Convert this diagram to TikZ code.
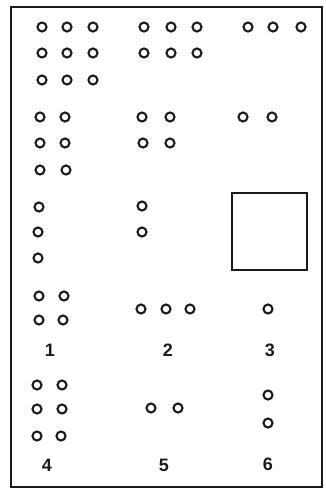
\documentclass[tikz,border=0pt]{standalone}
\usepackage{fontspec}
\setmainfont{Liberation Sans}
\usepackage{tikz}
\definecolor{ink}{HTML}{1A1A1A}

\begin{document}
\begin{tikzpicture}[x=1pt,y=-1pt,
  hole/.style={circle,draw=ink,line width=2.1pt,minimum size=9pt,inner sep=0pt},
  numlabel/.style={font=\fontsize{18}{18}\selectfont\bfseries,text=ink,inner sep=0pt}]
\useasboundingbox (0,0) rectangle (325,490);
\draw[ink,line width=1.8pt] (11,7) rectangle (322,487);
% block 1: three by three, three by two, three by one
\node[hole] (a11) at (42,27) {}; \node[hole] (a12) at (67,27) {}; \node[hole] (a13) at (93,27) {};
\node[hole] (a21) at (42,53) {}; \node[hole] (a22) at (67,53) {}; \node[hole] (a23) at (93,53) {};
\node[hole] (a31) at (42,80) {}; \node[hole] (a32) at (67,80) {}; \node[hole] (a33) at (93,80) {};
\node[hole] (b11) at (144,27) {}; \node[hole] (b12) at (171,27) {}; \node[hole] (b13) at (197,27) {};
\node[hole] (b21) at (144,53) {}; \node[hole] (b22) at (171,53) {}; \node[hole] (b23) at (197,53) {};
\node[hole] (c11) at (248,27) {}; \node[hole] (c12) at (273,27) {}; \node[hole] (c13) at (301,27) {};
% block 2: two wide
\node[hole] (d11) at (40,117) {}; \node[hole] (d12) at (65,117) {};
\node[hole] (d21) at (40,143) {}; \node[hole] (d22) at (65,143) {};
\node[hole] (d31) at (40,170) {}; \node[hole] (d32) at (66,170) {};
\node[hole] (e11) at (142,117) {}; \node[hole] (e12) at (170,117) {};
\node[hole] (e21) at (143,143) {}; \node[hole] (e22) at (170,143) {};
\node[hole] (f11) at (243,117) {}; \node[hole] (f12) at (272,117) {};
% block 3: one wide and the square
\node[hole] (g1) at (39,207) {};
\node[hole] (g2) at (38,232) {};
\node[hole] (g3) at (38,258) {};
\node[hole] (h1) at (142,206) {};
\node[hole] (h2) at (142,232) {};
\node[draw=ink,line width=2.6pt,minimum width=75pt,minimum height=77pt,inner sep=0pt] (box) at (269.5,231.5) {};
% block 4
\node[hole] (i11) at (39,296) {}; \node[hole] (i12) at (64,296) {};
\node[hole] (i21) at (39,320) {}; \node[hole] (i22) at (63,320) {};
\node[hole] (j1) at (141,309) {}; \node[hole] (j2) at (166,309) {}; \node[hole] (j3) at (190,309) {};
\node[hole] (k1) at (268,309) {};
\node[numlabel] (lab1) at (50,350) {1};
\node[numlabel] (lab2) at (168,350) {2};
\node[numlabel] (lab3) at (270,350) {3};
% block 5
\node[hole] (l11) at (37,385) {}; \node[hole] (l12) at (62,385) {};
\node[hole] (l21) at (37,409) {}; \node[hole] (l22) at (62,409) {};
\node[hole] (l31) at (37,436) {}; \node[hole] (l32) at (61,436) {};
\node[hole] (m1) at (151,408) {}; \node[hole] (m2) at (178,408) {};
\node[hole] (n1) at (268,395) {};
\node[hole] (n2) at (268,423) {};
\node[numlabel] (lab4) at (47,465) {4};
\node[numlabel] (lab5) at (164,465) {5};
\node[numlabel] (lab6) at (268,464) {6};
\end{tikzpicture}
\end{document}
